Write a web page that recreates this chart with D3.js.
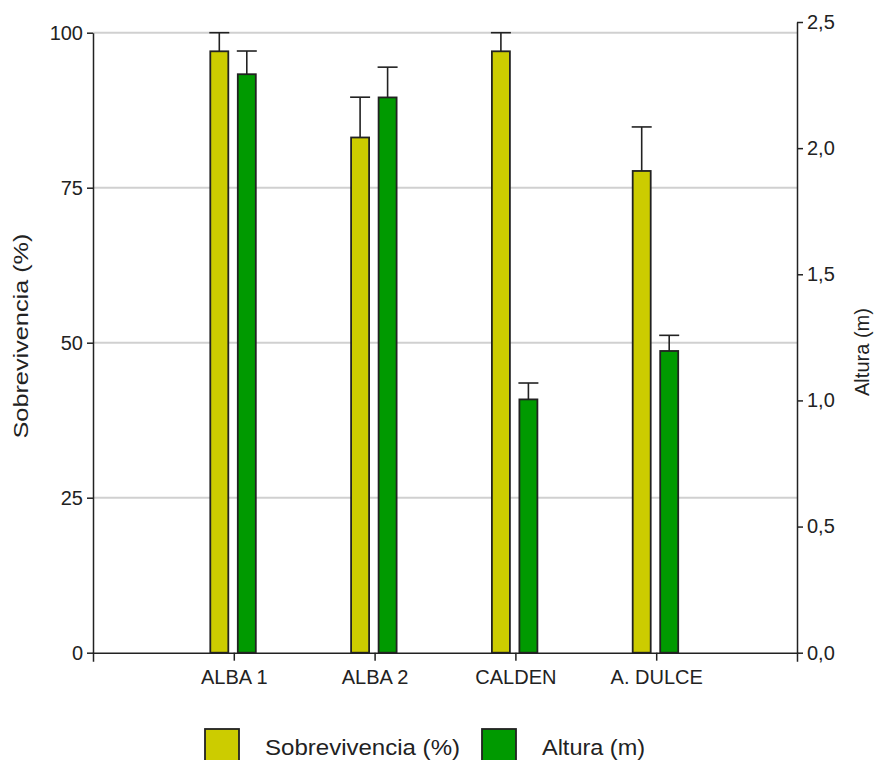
<!DOCTYPE html>
<html>
<head>
<meta charset="utf-8">
<script src="https://cdn.jsdelivr.net/npm/d3@7"></script>
<style>
    html, body { margin: 0; padding: 0; background: #fff; }
    svg { display: block; font-family: Arial, "Liberation Sans", sans-serif; }
</style>
</head>
<body>
<div id="chart"></div>
<script>
var categories = ['ALBA 1', 'ALBA 2', 'CALDEN', 'A. DULCE'];
var survival = [97, 83.1, 97, 77.7];
var survivalErr = [3, 6.5, 3, 7.1];
var height = [2.293, 2.201, 1.004, 1.196];
var heightErr = [0.092, 0.12, 0.065, 0.062];
var leftTicks = [0, 25, 50, 75, 100];
var rightTicks = [0, 0.5, 1, 1.5, 2, 2.5];
var seriesNames = ['Sobrevivencia (%)', 'Altura (m)'];

(function () {
    'use strict';

    var width = 877;
    var totalHeight = 760;
    var margin = { top: 32.7, right: 80, bottom: 107.3, left: 93 };
    var rightTop = 22;
    var yellow = '#cccc00';
    var green = '#009a00';
    var ink = '#222';
    var barWidth = 18;

    var svg = d3.select('#chart').append('svg')
        .attr('width', width)
        .attr('height', totalHeight);

    var plotRight = width - margin.right;
    var plotBottom = totalHeight - margin.bottom;

    // categories sit at 1..4 inside a 0..5 span, first slot left empty
    var x = d3.scaleLinear()
        .domain([0, categories.length + 1])
        .range([margin.left, plotRight]);

    var yLeft = d3.scaleLinear()
        .domain([0, 100])
        .range([plotBottom, margin.top]);

    // right axis runs a bit higher than the left one
    var yRight = d3.scaleLinear()
        .domain([0, 2.5])
        .range([plotBottom, rightTop]);

    // grid
    svg.append('g')
        .selectAll('line')
        .data(leftTicks.filter(function (d) { return d > 0; }))
        .enter().append('line')
        .attr('x1', margin.left)
        .attr('x2', plotRight)
        .attr('y1', function (d) { return yLeft(d); })
        .attr('y2', function (d) { return yLeft(d); })
        .style('stroke', '#d0d0d0')
        .style('stroke-width', 2);

    drawSeries(survival, survivalErr, yLeft, yellow, -23.5);
    drawSeries(height, heightErr, yRight, green, 4);

    // axes
    var xAxis = d3.axisBottom(x)
        .tickValues(d3.range(1, categories.length + 1))
        .tickFormat(function (d) { return categories[d - 1]; })
        .tickSize(8)
        .tickSizeOuter(9)
        .tickPadding(9);

    var leftAxis = d3.axisLeft(yLeft)
        .tickValues(leftTicks)
        .tickSize(6)
        .tickSizeOuter(0)
        .tickPadding(4);

    var rightAxis = d3.axisRight(yRight)
        .tickValues(rightTicks)
        .tickFormat(function (d) { return d3.format('.1f')(d).replace('.', ','); })
        .tickSize(6)
        .tickSizeOuter(0)
        .tickPadding(4);

    var gx = svg.append('g')
        .attr('transform', 'translate(0,' + plotBottom + ')')
        .call(xAxis);
    var gl = svg.append('g')
        .attr('transform', 'translate(' + margin.left + ',0)')
        .call(leftAxis);
    var gr = svg.append('g')
        .attr('transform', 'translate(' + plotRight + ',0)')
        .call(rightAxis);

    [gx, gl, gr].forEach(function (g) {
        g.selectAll('path, line')
            .style('stroke', ink)
            .style('stroke-width', 1.5);
        g.selectAll('text')
            .style('font-size', '20px')
            .style('fill', ink)
            .style('font-family', 'Arial, "Liberation Sans", sans-serif');
    });

    // axis titles
    svg.append('text')
        .attr('transform', 'translate(28,336) rotate(-90)')
        .attr('text-anchor', 'middle')
        .attr('textLength', 205)
        .attr('lengthAdjust', 'spacingAndGlyphs')
        .style('font-size', '20px')
        .style('fill', ink)
        .text(seriesNames[0]);

    svg.append('text')
        .attr('transform', 'translate(869,352) rotate(-90)')
        .attr('text-anchor', 'middle')
        .attr('textLength', 88)
        .attr('lengthAdjust', 'spacingAndGlyphs')
        .style('font-size', '20px')
        .style('fill', ink)
        .text(seriesNames[1]);

    // legend
    var legendX = [205, 482];
    var legendLen = [195, 103];
    var legendColors = [yellow, green];
    var legend = svg.append('g')
        .selectAll('g')
        .data(seriesNames)
        .enter().append('g')
        .attr('transform', function (d, i) { return 'translate(' + legendX[i] + ',729)'; });

    legend.append('rect')
        .attr('width', 34)
        .attr('height', 40)
        .style('fill', function (d, i) { return legendColors[i]; })
        .style('stroke', ink)
        .style('stroke-width', 1.8);

    legend.append('text')
        .attr('x', 60)
        .attr('y', 26)
        .attr('textLength', function (d, i) { return legendLen[i]; })
        .attr('lengthAdjust', 'spacingAndGlyphs')
        .style('font-size', '22px')
        .style('fill', ink)
        .text(function (d) { return d; });

    function drawSeries(values, errors, yScale, fill, offset) {
        var g = svg.append('g');

        g.selectAll('line.err')
            .data(values)
            .enter().append('line')
            .attr('class', 'err')
            .attr('x1', function (d, i) { return x(i + 1) + offset + barWidth / 2; })
            .attr('x2', function (d, i) { return x(i + 1) + offset + barWidth / 2; })
            .attr('y1', function (d) { return yScale(d); })
            .attr('y2', function (d, i) { return yScale(d + errors[i]); })
            .style('stroke', ink)
            .style('stroke-width', 1.6);

        g.selectAll('line.cap')
            .data(values)
            .enter().append('line')
            .attr('class', 'cap')
            .attr('x1', function (d, i) { return x(i + 1) + offset - 1; })
            .attr('x2', function (d, i) { return x(i + 1) + offset + barWidth + 1; })
            .attr('y1', function (d, i) { return yScale(d + errors[i]); })
            .attr('y2', function (d, i) { return yScale(d + errors[i]); })
            .style('stroke', ink)
            .style('stroke-width', 1.6);

        g.selectAll('rect')
            .data(values)
            .enter().append('rect')
            .attr('x', function (d, i) { return x(i + 1) + offset; })
            .attr('y', function (d) { return yScale(d); })
            .attr('width', barWidth)
            .attr('height', function (d) { return yScale(0) - yScale(d); })
            .style('fill', fill)
            .style('stroke', ink)
            .style('stroke-width', 1.8);
    }
})();
</script>
</body>
</html>
